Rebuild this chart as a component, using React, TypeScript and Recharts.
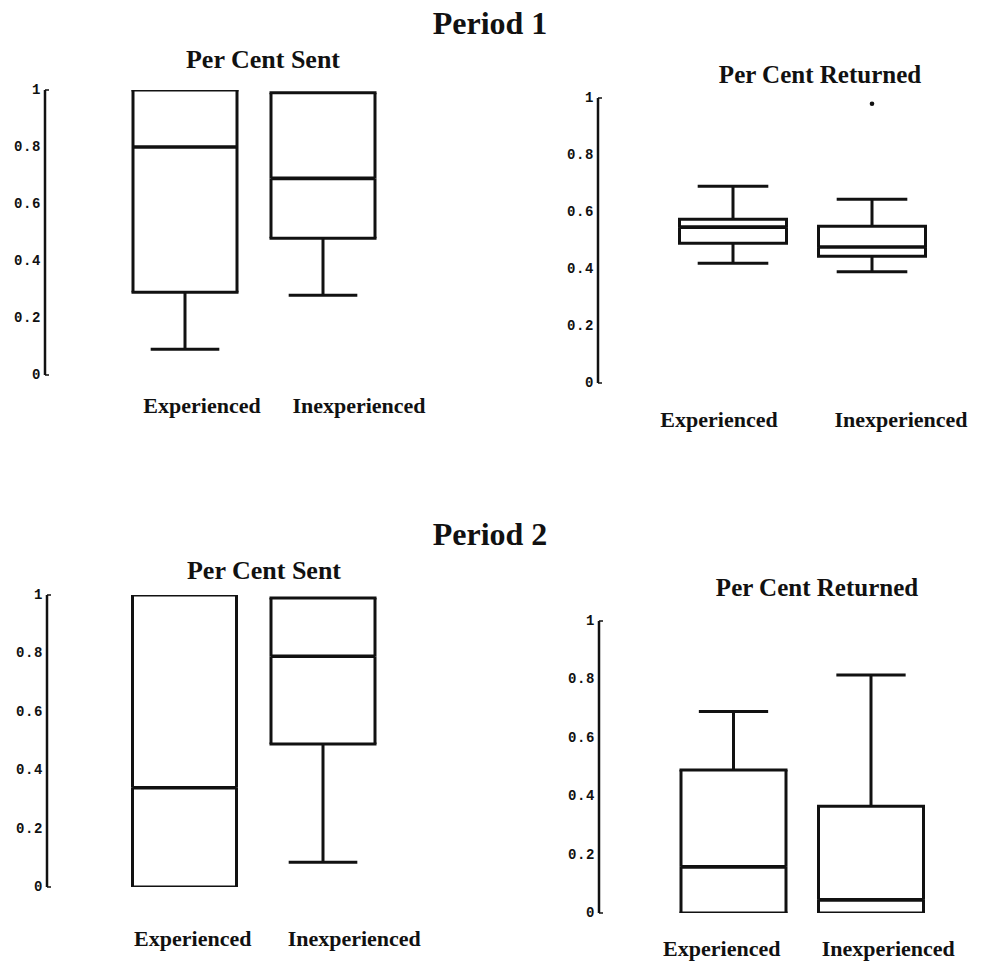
import React from 'react';
import { ComposedChart, Bar, Scatter, XAxis, YAxis } from 'recharts';

const groups = ['Experienced', 'Inexperienced'];
const yTicks = [0, 0.2, 0.4, 0.6, 0.8, 1];

// Period 1, per cent sent
const sent1Min = [0.09, 0.28];
const sent1Q1 = [0.29, 0.48];
const sent1Median = [0.8, 0.69];
const sent1Q3 = [1.0, 0.99];
const sent1Max = [1.0, 0.99];

// Period 1, per cent returned
const ret1Min = [0.42, 0.39];
const ret1Q1 = [0.49, 0.445];
const ret1Median = [0.547, 0.477];
const ret1Q3 = [0.575, 0.55];
const ret1Max = [0.69, 0.645];
const ret1Outlier = [null, 0.98];

// Period 2, per cent sent
const sent2Min = [0, 0.085];
const sent2Q1 = [0, 0.49];
const sent2Median = [0.34, 0.79];
const sent2Q3 = [1.0, 0.99];
const sent2Max = [1.0, 0.99];

// Period 2, per cent returned
const ret2Min = [0, 0];
const ret2Q1 = [0, 0];
const ret2Median = [0.158, 0.045];
const ret2Q3 = [0.49, 0.366];
const ret2Max = [0.69, 0.815];

const buildRows = (min, q1, med, q3, max, outlier = null) =>
  groups.map((g, i) => ({
    group: g,
    base: min[i],
    lowWhisker: q1[i] - min[i],
    lowBox: med[i] - q1[i],
    highBox: q3[i] - med[i],
    highWhisker: max[i] - q3[i],
    outlier: outlier ? outlier[i] : null,
  }));

const INK = '#111';
const SW = 3;

const LowWhisker = (p) => {
  const { x, y, width, height } = p;
  if (!height || height < 0.5) return null;
  const cx = x + width / 2;
  const half = width * 0.33;
  return (
    <g>
      <line x1={cx} x2={cx} y1={y} y2={y + height} stroke={INK} strokeWidth={SW} />
      <line x1={cx - half} x2={cx + half} y1={y + height} y2={y + height} stroke={INK} strokeWidth={SW} />
    </g>
  );
};

const HighWhisker = (p) => {
  const { x, y, width, height } = p;
  if (!height || height < 0.5) return null;
  const cx = x + width / 2;
  const half = width * 0.33;
  return (
    <g>
      <line x1={cx} x2={cx} y1={y} y2={y + height} stroke={INK} strokeWidth={SW} />
      <line x1={cx - half} x2={cx + half} y1={y} y2={y} stroke={INK} strokeWidth={SW} />
    </g>
  );
};

// lower half of the box: sides + bottom (Q1)
const LowBox = (p) => {
  const { x, y, width, height } = p;
  const h = height || 0;
  return (
    <g>
      <line x1={x} x2={x} y1={y} y2={y + h} stroke={INK} strokeWidth={SW} />
      <line x1={x + width} x2={x + width} y1={y} y2={y + h} stroke={INK} strokeWidth={SW} />
      <line x1={x - SW / 2} x2={x + width + SW / 2} y1={y + h} y2={y + h} stroke={INK} strokeWidth={SW} />
    </g>
  );
};

// upper half of the box: sides + top (Q3) + median line
const HighBox = (p) => {
  const { x, y, width, height } = p;
  const h = height || 0;
  return (
    <g>
      <line x1={x} x2={x} y1={y} y2={y + h} stroke={INK} strokeWidth={SW} />
      <line x1={x + width} x2={x + width} y1={y} y2={y + h} stroke={INK} strokeWidth={SW} />
      <line x1={x - SW / 2} x2={x + width + SW / 2} y1={y} y2={y} stroke={INK} strokeWidth={SW} />
      <line x1={x} x2={x + width} y1={y + h} y2={y + h} stroke={INK} strokeWidth={3.6} />
    </g>
  );
};

const OutlierDot = (p) => {
  if (p.payload == null || p.payload.outlier == null) return null;
  return <circle cx={p.cx} cy={p.cy} r={2.3} fill={INK} />;
};

const YTick = (p) => {
  const { x, y, payload } = p;
  const v = payload.value;
  const isEnd = v === 0 || v === 1;
  return (
    <g>
      <text
        x={x}
        y={y}
        textAnchor="end"
        dominantBaseline="central"
        fontFamily="'Liberation Mono', monospace"
        fontWeight="bold"
        fontSize={14}
        letterSpacing={0.6}
        fill={INK}
      >
        {String(v)}
      </text>
      {isEnd && <line x1={x + 4} x2={x + 8} y1={y} y2={y} stroke={INK} strokeWidth={1.5} />}
    </g>
  );
};

const makeXTick = (offsets, dy) => (p) => {
  const { x, y, payload, index } = p;
  return (
    <text
      x={x + offsets[index]}
      y={y + dy}
      textAnchor="middle"
      dominantBaseline="central"
      fontFamily="'Liberation Serif', 'Times New Roman', serif"
      fontWeight="bold"
      fontSize={22}
      fill={INK}
    >
      {payload.value}
    </text>
  );
};

const BoxPanel = ({ data, axisX, y1, y0, band, padL, barSize, offsets, dy }) => {
  const width = 45 + padL + 2 * band + 20 + 70;
  const height = 10 + (y0 - y1) + 70;
  return (
    <div style={{ position: 'absolute', left: axisX - 45, top: y1 - 10 }}>
      <ComposedChart width={width} height={height} data={data} margin={{ top: 10, right: 70, bottom: 0, left: 0 }}>
        <XAxis
          dataKey="group"
          padding={{ left: padL, right: 20 }}
          height={70}
          axisLine={false}
          tickLine={false}
          tickSize={0}
          tickMargin={0}
          interval={0}
          tick={makeXTick(offsets, dy)}
        />
        <YAxis
          width={45}
          domain={[0, 1]}
          ticks={yTicks}
          allowDataOverflow
          tickLine={false}
          tickSize={0}
          tickMargin={4}
          axisLine={{ stroke: INK, strokeWidth: 2.5 }}
          tick={<YTick />}
        />
        <Bar dataKey="base" stackId="b" fill="transparent" barSize={barSize} isAnimationActive={false} />
        <Bar dataKey="lowWhisker" stackId="b" shape={LowWhisker} barSize={barSize} isAnimationActive={false} />
        <Bar dataKey="lowBox" stackId="b" shape={LowBox} barSize={barSize} isAnimationActive={false} />
        <Bar dataKey="highBox" stackId="b" shape={HighBox} barSize={barSize} isAnimationActive={false} />
        <Bar dataKey="highWhisker" stackId="b" shape={HighWhisker} barSize={barSize} isAnimationActive={false} />
        <Scatter dataKey="outlier" shape={OutlierDot} isAnimationActive={false} />
      </ComposedChart>
    </div>
  );
};

const Title = ({ text, cx, cy, size }) => (
  <div
    style={{
      position: 'absolute',
      left: cx - 200,
      width: 400,
      top: cy - size / 2,
      lineHeight: `${size}px`,
      textAlign: 'center',
      fontFamily: "'Liberation Serif', 'Times New Roman', serif",
      fontWeight: 'bold',
      fontSize: size,
      color: INK,
      whiteSpace: 'nowrap',
    }}
  >
    {text}
  </div>
);

export default function App() {
  return (
    <div style={{ position: 'absolute', left: 0, top: 0, width: 981, height: 967, background: '#fff', overflow: 'hidden' }}>
      <Title text="Period 1" cx={490} cy={23} size={32} />
      <Title text="Per Cent Sent" cx={263} cy={60} size={26} />
      <Title text="Per Cent Returned" cx={820} cy={74} size={25} />
      <Title text="Period 2" cx={490} cy={534} size={32} />
      <Title text="Per Cent Sent" cx={264} cy={571} size={26} />
      <Title text="Per Cent Returned" cx={817} cy={587} size={25} />

      <BoxPanel
        data={buildRows(sent1Min, sent1Q1, sent1Median, sent1Q3, sent1Max)}
        axisX={45} y1={90} y0={375} band={138} padL={71} barSize={104}
        offsets={[17, 36]} dy={30}
      />
      <BoxPanel
        data={buildRows(ret1Min, ret1Q1, ret1Median, ret1Q3, ret1Max, ret1Outlier)}
        axisX={598} y1={98} y0={383} band={139} padL={65.5} barSize={107}
        offsets={[-14, 29]} dy={36}
      />
      <BoxPanel
        data={buildRows(sent2Min, sent2Q1, sent2Median, sent2Q3, sent2Max)}
        axisX={47} y1={595} y0={887} band={138.5} padL={68.5} barSize={104}
        offsets={[8, 31]} dy={51}
      />
      <BoxPanel
        data={buildRows(ret2Min, ret2Q1, ret2Median, ret2Q3, ret2Max)}
        axisX={599} y1={621} y0={913} band={137.5} padL={66} barSize={105}
        offsets={[-12, 17]} dy={35}
      />
    </div>
  );
}
